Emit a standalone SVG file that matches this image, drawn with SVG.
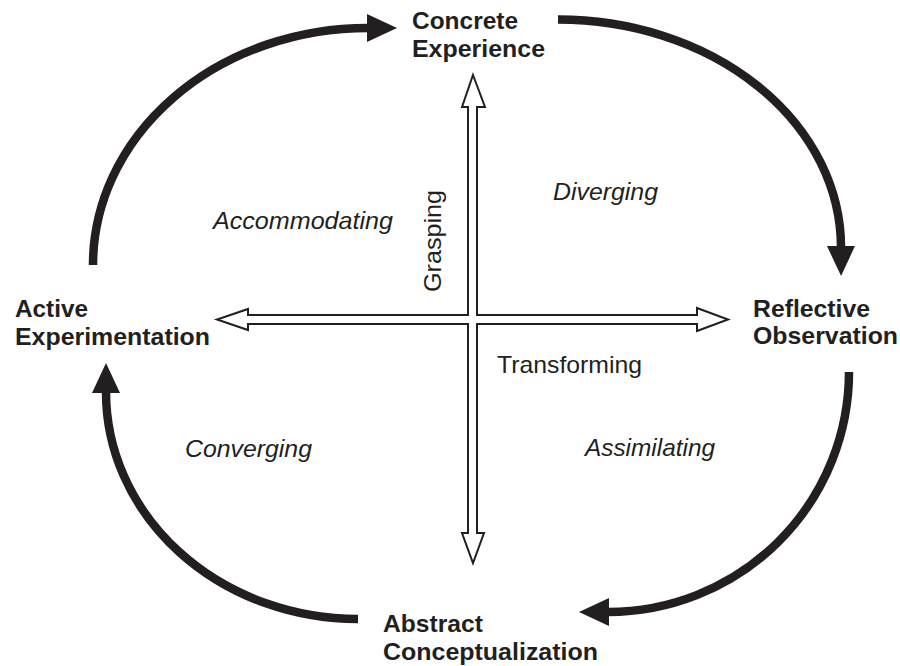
<svg xmlns="http://www.w3.org/2000/svg" width="900" height="666" viewBox="0 0 900 666">
<style>
text{font-family:"Liberation Sans",Arial,sans-serif;fill:#231f20;font-size:24px}
.b{font-weight:bold}
.i{font-style:italic}
.cyc{fill:none;stroke:#231f20;stroke-width:8.5;marker-end:url(#ah)}
.axis{fill:#fff;stroke:#231f20;stroke-width:2;stroke-linejoin:miter}
</style>
<defs>
<marker id="ah" viewBox="0 0 30 28" refX="1" refY="14" markerWidth="30" markerHeight="28" markerUnits="userSpaceOnUse" orient="auto">
<path d="M0,0 L30,14 L0,28 z" fill="#231f20"/>
</marker>
</defs>
<rect width="900" height="666" fill="#fff"/>
<g id="connectors">
<path class="cyc" d="M93,265 A275,237 0 0 1 368,28"/>
<path class="cyc" d="M558,19.5 A283,228 0 0 1 841,247"/>
<path class="cyc" d="M849,372 A241,240 0 0 1 608,612"/>
<path class="cyc" d="M358,619 A252,227 0 0 1 106,392"/>
<polygon class="axis" points="473,75 485,107 477,107 477,315 697,315 697,308 728,319.5 697,331 697,324 477,324 477,533 484,533 473,563 462,533 468,533 468,324 248,324 248,330 217,319.5 248,309 248,315 468,315 468,107 462,107"/>
</g>
<g id="concrete-experience">
<text class="b" x="412" y="29" textLength="106" lengthAdjust="spacingAndGlyphs">Concrete</text>
<text class="b" x="412" y="57" textLength="133" lengthAdjust="spacingAndGlyphs">Experience</text>
</g>
<g id="reflective-observation">
<text class="b" x="753" y="317" textLength="117" lengthAdjust="spacingAndGlyphs">Reflective</text>
<text class="b" x="753" y="344" textLength="145" lengthAdjust="spacingAndGlyphs">Observation</text>
</g>
<g id="abstract-conceptualization">
<text class="b" x="383" y="632" textLength="100" lengthAdjust="spacingAndGlyphs">Abstract</text>
<text class="b" x="383" y="660" textLength="215" lengthAdjust="spacingAndGlyphs">Conceptualization</text>
</g>
<g id="active-experimentation">
<text class="b" x="15" y="317" textLength="73" lengthAdjust="spacingAndGlyphs">Active</text>
<text class="b" x="15" y="345" textLength="195" lengthAdjust="spacingAndGlyphs">Experimentation</text>
</g>
<g id="diverging"><text class="i" x="553" y="200" textLength="105" lengthAdjust="spacingAndGlyphs">Diverging</text></g>
<g id="accommodating"><text class="i" x="213" y="229" textLength="180" lengthAdjust="spacingAndGlyphs">Accommodating</text></g>
<g id="converging"><text class="i" x="185" y="457" textLength="127" lengthAdjust="spacingAndGlyphs">Converging</text></g>
<g id="assimilating"><text class="i" x="585" y="456" textLength="130" lengthAdjust="spacingAndGlyphs">Assimilating</text></g>
<g id="grasping"><text x="0" y="0" transform="translate(441,292) rotate(-90)" textLength="102" lengthAdjust="spacingAndGlyphs">Grasping</text></g>
<g id="transforming"><text x="497" y="373" textLength="145" lengthAdjust="spacingAndGlyphs">Transforming</text></g>
</svg>
